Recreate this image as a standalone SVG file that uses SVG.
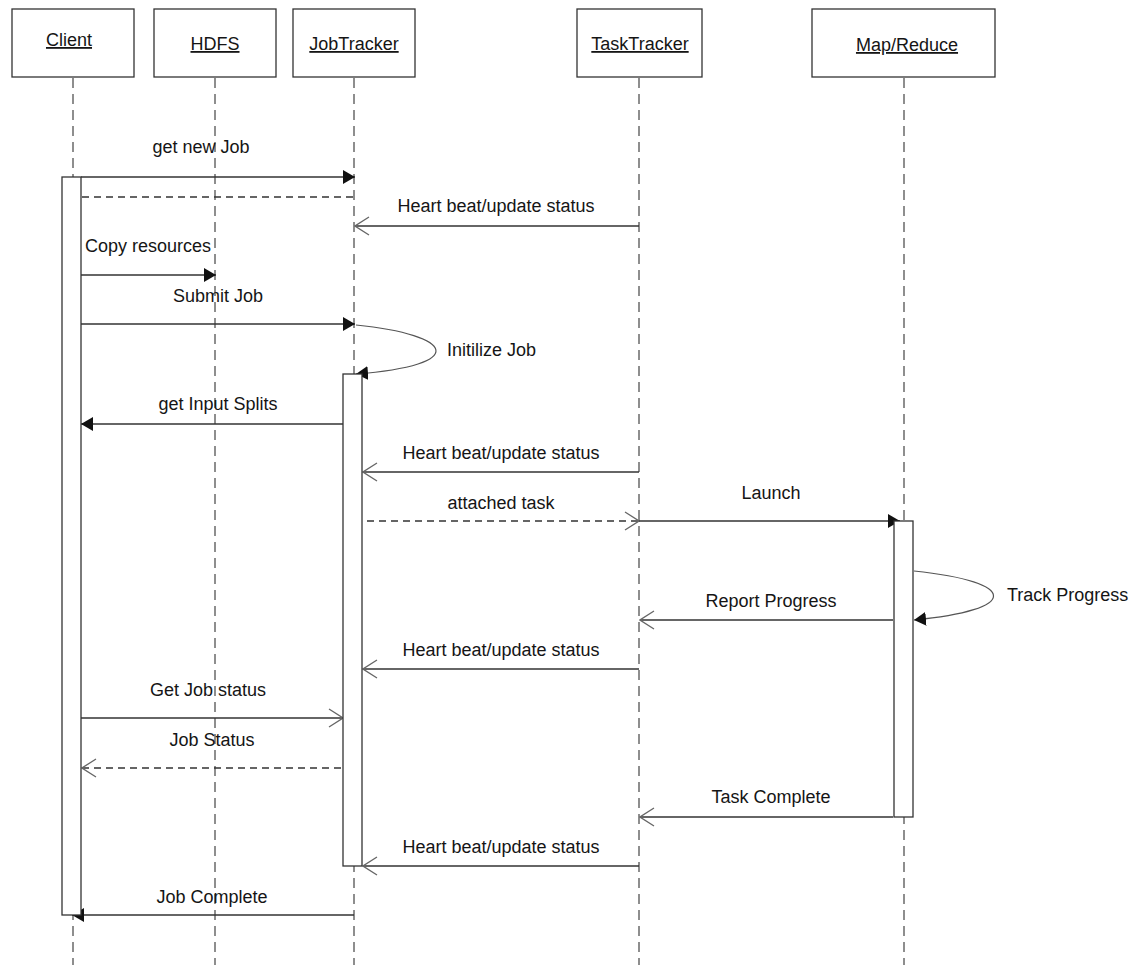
<svg xmlns="http://www.w3.org/2000/svg" width="1134" height="965" viewBox="0 0 1134 965">
<style>
text{font-family:"Liberation Sans",Arial,sans-serif;font-size:18px;fill:#151515}
.hd{text-anchor:middle;text-decoration:underline}
.m{text-anchor:middle}
.box{fill:#fff;stroke:#333;stroke-width:1.3}
.life{stroke:#444;stroke-width:1.2;stroke-dasharray:10,6;fill:none}
.act{fill:#fff;stroke:#333;stroke-width:1.3}
.msg{stroke:#333;stroke-width:1.4;fill:none}
.dash{stroke:#333;stroke-width:1.4;fill:none;stroke-dasharray:7,5}
.loop{stroke:#555;stroke-width:1.2;fill:none}
</style>
<defs>
<marker id="fa" viewBox="0 0 12 14" refX="12" refY="7" markerWidth="12" markerHeight="14" markerUnits="userSpaceOnUse" orient="auto"><path d="M0,0 L12,7 L0,14 Z" fill="#111"/></marker>
<marker id="oa" viewBox="0 0 16 20" refX="15" refY="10" markerWidth="16" markerHeight="20" markerUnits="userSpaceOnUse" orient="auto"><path d="M1,1 L15,10 L1,19" fill="none" stroke="#666" stroke-width="1.3"/></marker>
</defs>
<rect width="1134" height="965" fill="#fff"/>
<g id="lifelines">
<line class="life" x1="73" y1="78" x2="73" y2="965"/>
<line class="life" x1="215" y1="78" x2="215" y2="965"/>
<line class="life" x1="354" y1="78" x2="354" y2="965"/>
<line class="life" x1="639" y1="78" x2="639" y2="965"/>
<line class="life" x1="904" y1="78" x2="904" y2="965"/>
</g>
<g id="client"><rect class="box" x="12" y="9" width="122" height="68"/><text class="hd" x="69" y="46">Client</text></g>
<g id="hdfs"><rect class="box" x="154" y="9" width="122" height="68"/><text class="hd" x="215" y="50">HDFS</text></g>
<g id="jobtracker"><rect class="box" x="293" y="9" width="122" height="68"/><text class="hd" x="354" y="50">JobTracker</text></g>
<g id="tasktracker"><rect class="box" x="577" y="9" width="125" height="68"/><text class="hd" x="640" y="50">TaskTracker</text></g>
<g id="mapreduce"><rect class="box" x="812" y="9" width="183" height="68"/><text class="hd" x="907" y="51">Map/Reduce</text></g>
<g id="connectors">
<line class="msg" x1="81" y1="177" x2="355" y2="177" marker-end="url(#fa)"/>
<text class="m" x="201" y="153">get new Job</text>
<line class="dash" x1="82" y1="197" x2="358" y2="197"/>
<line class="msg" x1="639" y1="226" x2="355" y2="226" marker-end="url(#oa)"/>
<text class="m" x="496" y="212">Heart beat/update status</text>
<line class="msg" x1="81" y1="275" x2="216" y2="275" marker-end="url(#fa)"/>
<text x="85" y="252">Copy resources</text>
<line class="msg" x1="81" y1="324" x2="355" y2="324" marker-end="url(#fa)"/>
<text class="m" x="218" y="302">Submit Job</text>
<path class="loop" d="M356,325 C455,335 470,365 356,374" marker-end="url(#fa)"/>
<text x="447" y="356">Initilize Job</text>
<line class="msg" x1="343" y1="424" x2="81" y2="424" marker-end="url(#fa)"/>
<text class="m" x="218" y="410">get Input Splits</text>
<line class="msg" x1="639" y1="472" x2="363" y2="472" marker-end="url(#oa)"/>
<text class="m" x="501" y="459">Heart beat/update status</text>
<line class="dash" x1="367" y1="521" x2="639" y2="521" marker-end="url(#oa)"/>
<text class="m" x="501" y="509">attached task</text>
<line class="msg" x1="639" y1="521" x2="900" y2="521" marker-end="url(#fa)"/>
<text class="m" x="771" y="499">Launch</text>
<path class="loop" d="M914,571 C1020,582 1020,610 914,620" marker-end="url(#fa)"/>
<text x="1007" y="601">Track Progress</text>
<line class="msg" x1="893" y1="620" x2="640" y2="620" marker-end="url(#oa)"/>
<text class="m" x="771" y="607">Report Progress</text>
<line class="msg" x1="639" y1="669" x2="363" y2="669" marker-end="url(#oa)"/>
<text class="m" x="501" y="656">Heart beat/update status</text>
<line class="msg" x1="81" y1="718" x2="343" y2="718" marker-end="url(#oa)"/>
<text class="m" x="208" y="696">Get Job status</text>
<line class="dash" x1="341" y1="768" x2="82" y2="768" marker-end="url(#oa)"/>
<text class="m" x="212" y="746">Job Status</text>
<line class="msg" x1="893" y1="817" x2="640" y2="817" marker-end="url(#oa)"/>
<text class="m" x="771" y="803">Task Complete</text>
<line class="msg" x1="639" y1="866" x2="363" y2="866" marker-end="url(#oa)"/>
<text class="m" x="501" y="853">Heart beat/update status</text>
<line class="msg" x1="354" y1="915" x2="72" y2="915" marker-end="url(#fa)"/>
<text class="m" x="212" y="903">Job Complete</text>
</g>
<g id="activations">
<rect class="act" x="62" y="177" width="19" height="738"/>
<rect class="act" x="343" y="374" width="19" height="492"/>
<rect class="act" x="894" y="521" width="19" height="296"/>
</g>
</svg>
